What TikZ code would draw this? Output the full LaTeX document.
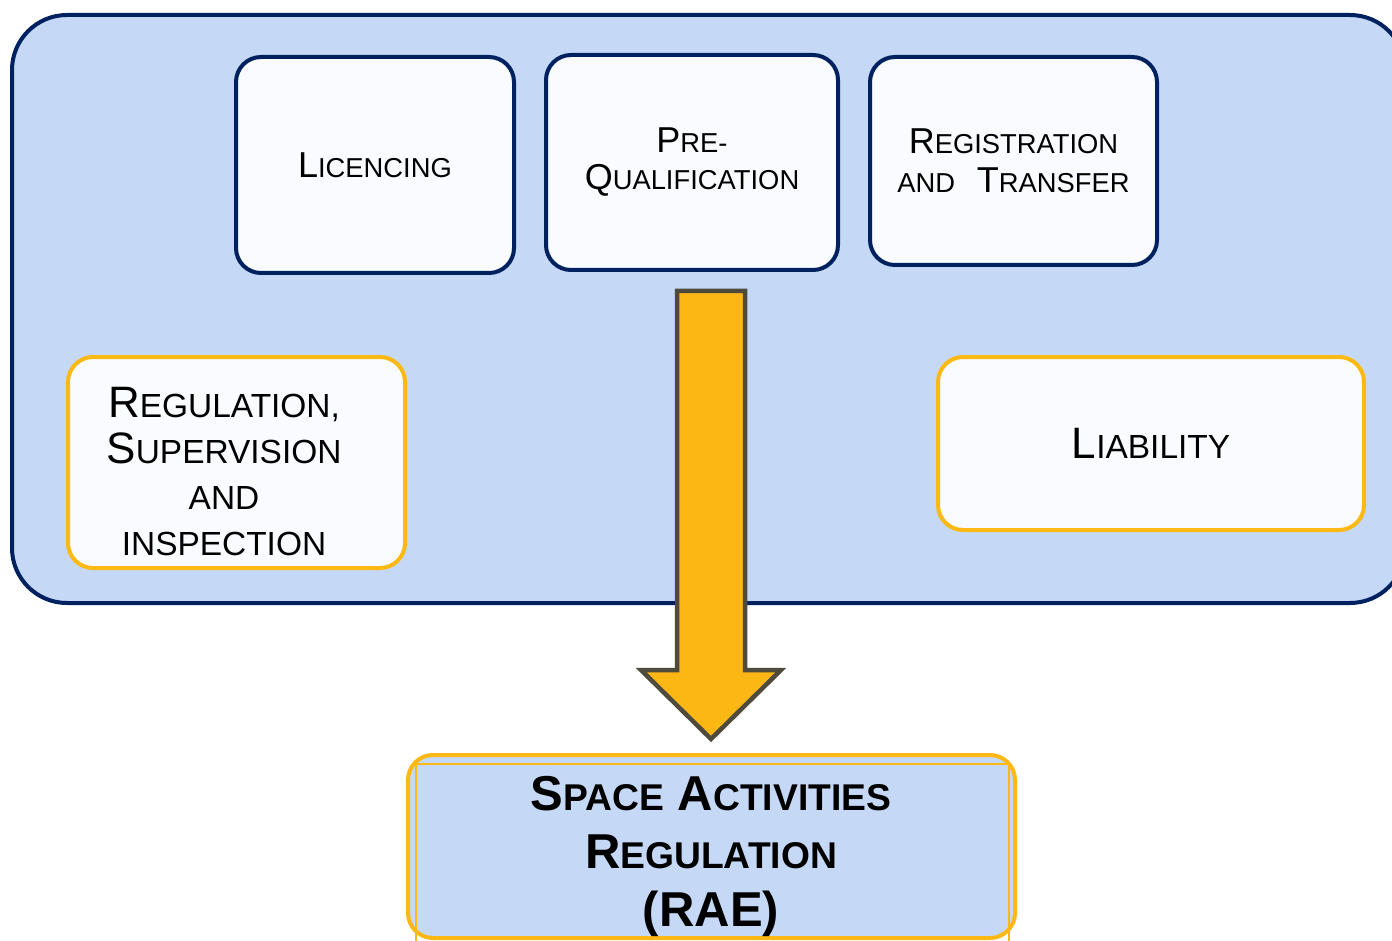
\documentclass[tikz,border=0pt]{standalone}
\usepackage{fontspec}
\setmainfont{Liberation Sans}
\usepackage{graphicx}
\definecolor{bluefill}{RGB}{197,217,246}
\definecolor{navy}{RGB}{0,33,96}
\definecolor{boxwhite}{RGB}{249,251,254}
\definecolor{gold}{RGB}{253,185,19}
\definecolor{arrowfill}{RGB}{252,183,20}
\definecolor{arrowline}{RGB}{78,75,60}
\newcommand\sm[1]{\scalebox{0.76}{#1}}
\begin{document}
\begin{tikzpicture}[x=1pt,y=-1pt,
  frame/.style={draw=navy, line width=4pt, fill=bluefill, rounded corners=55pt, inner sep=0pt},
  navybox/.style={draw=navy, line width=4pt, fill=boxwhite, rounded corners=25pt, inner sep=0pt, align=center},
  goldbox/.style={draw=gold, line width=4pt, fill=boxwhite, rounded corners=25pt, inner sep=0pt, align=center},
  raebox/.style={draw=gold, line width=4pt, fill=bluefill, rounded corners=25pt, inner sep=0pt, align=center},
  bigarrow/.style={draw=arrowline, fill=arrowfill, line width=4.5pt, line join=miter},
  toptext/.style={font=\fontsize{36}{39}\selectfont},
  midtext/.style={font=\fontsize{44}{46}\selectfont, align=center, inner sep=0pt},
  raetext/.style={font=\fontsize{49}{58}\selectfont\bfseries, align=center, inner sep=0pt}
]
\useasboundingbox (0,0) rectangle (1392,941);
\fill[white] (0,0) rectangle (1392,941);
\node[frame, minimum width=1393pt, minimum height=588pt] (frame) at (708.5,309) {};
\node[navybox, toptext, minimum width=278pt, minimum height=216pt] (lic) at (375,165) {L\sm{ICENCING}};
\node[navybox, toptext, minimum width=292pt, minimum height=215pt] (preq) at (692,162.5) {\raisebox{-2pt}{P\sm{RE-}}\\Q\sm{UALIFICATION}};
\node[navybox, toptext, minimum width=287pt, minimum height=208pt] (regt) at (1013.5,161) {R\sm{EGISTRATION}\\\sm{AND}\hspace{0.6em}T\sm{RANSFER}};
\node[goldbox, minimum width=337pt, minimum height=211pt] (rsi) at (236.5,462.5) {};
\node[midtext] (rsitext) at (224,472) {R\sm{EGULATION,}\\S\sm{UPERVISION}\\\sm{AND}\\\sm{INSPECTION}};
\node[goldbox, minimum width=426pt, minimum height=173pt, font=\fontsize{44}{46}\selectfont] (liab) at (1151,443.5) {L\sm{IABILITY}};
\draw[bigarrow] (677,291) -- (745,291) -- (745,670) -- (781,670) -- (711,739) -- (641,670) -- (677,670) -- cycle;
\node[raebox, minimum width=607pt, minimum height=183pt] (rae) at (711.5,846.5) {};
\draw[gold, line width=1.5pt] ([shift={(10,11)}]rae.north west) rectangle ([shift={(-8,6)}]rae.south east);
\node[raetext] (raetext) at (711,856) {S\sm{PACE} A\sm{CTIVITIES}\\R\sm{EGULATION}\\(RAE)};
\end{tikzpicture}
\end{document}
